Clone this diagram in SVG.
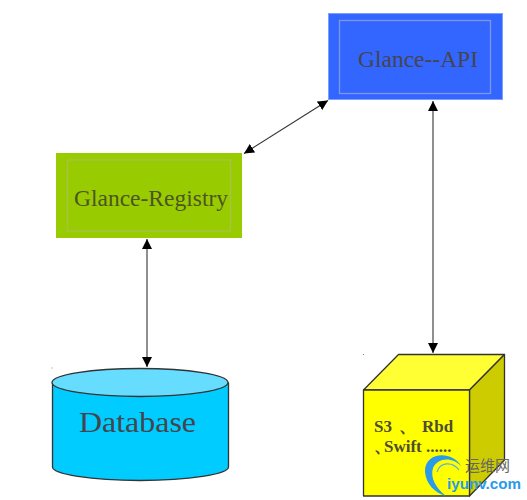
<svg xmlns="http://www.w3.org/2000/svg" width="527" height="500" viewBox="0 0 527 500">
<style>
.lbl{font-family:"Liberation Serif",serif;fill:#45454d}
.edge{stroke:#333;stroke-width:1.100;fill:none;marker-start:url(#a);marker-end:url(#a)}
.sh{stroke:#333;stroke-width:1.300;stroke-linejoin:round}
.inner{fill:none;stroke-width:1.300}
</style>
<defs>
<marker id="a" viewBox="0 0 10 10" refX="10" refY="5" markerWidth="10" markerHeight="10" markerUnits="userSpaceOnUse" orient="auto-start-reverse"><path d="M0 0L10 5L0 10Z" fill="#000"/></marker>
</defs>
<rect width="527" height="500" fill="#fff"/>
<g id="api">
<rect x="328.500" y="13.500" width="174" height="86" fill="#3366ff" stroke="#7f9fff" stroke-width="1"/>
<rect class="inner" x="339.500" y="20.500" width="151" height="73" stroke="#7d96e8"/>
<text class="lbl" x="358" y="67" font-size="23" textLength="120" lengthAdjust="spacingAndGlyphs">Glance--API</text>
</g>
<g id="registry">
<rect x="56" y="153" width="186" height="85" fill="#99cc00"/>
<rect class="inner" x="67.500" y="160" width="163" height="71" stroke="#a8c04e"/>
<text class="lbl" x="74" y="206" font-size="23" textLength="154" lengthAdjust="spacingAndGlyphs" style="fill:#4d5520">Glance-Registry</text>
</g>
<g id="database">
<path class="sh" d="M52.500 383V467C52.500 474 91 480.500 140 480.500S228.500 474 228.500 467V383Z" fill="#00ccff"/>
<ellipse class="sh" cx="140" cy="382.500" rx="88" ry="14" fill="#66dcff"/>
<text class="lbl" x="79" y="432" font-size="30" textLength="117" lengthAdjust="spacingAndGlyphs">Database</text>
<rect x="51.500" y="367.500" width="1" height="1" fill="#888"/>
</g>
<g id="storage">
<path class="sh" d="M363.500 390L398.500 354.500H504.500L469.500 390Z" fill="#ffff33"/>
<path class="sh" d="M469.500 390L504.500 354.500V460L469.500 496Z" fill="#cccc00"/>
<rect class="sh" x="363.500" y="390" width="106" height="106" fill="#ffff00"/>
<text class="lbl" font-size="17" font-weight="bold" style="fill:#4d4d33"><tspan x="374" y="431.500">S3</tspan><tspan x="399" y="431.500">、</tspan><tspan x="422" y="431.500">Rbd</tspan></text>
<text class="lbl" font-size="17" font-weight="bold" style="fill:#4d4d33" x="374 384" y="452">、Swift ......</text>
<rect x="363" y="354" width="1" height="1" fill="#888"/>
</g>
<g id="connectors">
<line class="edge" x1="244" y1="153.500" x2="328" y2="100.500"/>
<line class="edge" x1="147" y1="239" x2="147" y2="367"/>
<line class="edge" x1="433" y1="101" x2="433" y2="353"/>
</g>
<g id="watermark">
<path d="M461 466C452 450 424 452 425 472C426 484 435 493 446 496C436 488 430 478 433 468C437 458 452 456 461 466Z" fill="#2a9be8"/>
<path d="M459 470C452 461 440 462 437 472" fill="none" stroke="#5ab0ea" stroke-width="1.200"/>
<text x="465" y="471" font-family="'Noto Sans CJK SC',sans-serif" font-size="15" fill="#666">运维网</text>
<text x="447" y="489" font-family="'Liberation Sans',sans-serif" font-size="15" font-weight="bold" fill="#2a9be8" textLength="74" lengthAdjust="spacingAndGlyphs">iyunv.com</text>
</g>
</svg>
